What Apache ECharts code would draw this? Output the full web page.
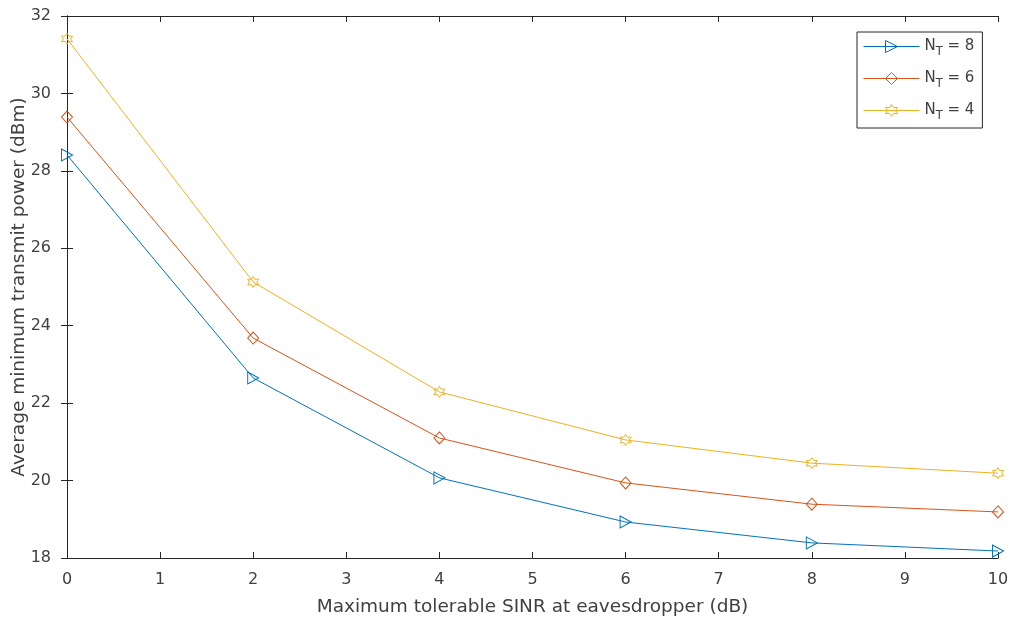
<!DOCTYPE html>
<html><head><meta charset="utf-8">
<script src="https://cdn.jsdelivr.net/npm/echarts@6/dist/echarts.min.js"></script>
<style>html,body{margin:0;padding:0;background:#fff}#c{width:1010px;height:620px}</style>
</head><body><div id="c"></div>
<script>
const xValues = [0, 2, 4, 6, 8, 10];
const nt8 = [28.41, 22.65, 20.07, 18.93, 18.39, 18.18];
const nt6 = [29.39, 23.68, 21.10, 19.94, 19.39, 19.19];
const nt4 = [31.41, 25.13, 22.29, 21.05, 20.45, 20.19];
const seriesNames = ['8', '6', '4'];
const colors = ['#0072BD', '#D95319', '#EDB120'];
const xTitle = 'Maximum tolerable SINR at eavesdropper (dB)';
const yTitle = 'Average minimum transmit power (dBm)';

const triPath = 'path://M0,0 L10,5 L0,10 Z';
const diaPath = 'path://M5,0 L10,5 L5,10 L0,5 Z';
const hexPath = 'path://M5,0 L6.443,2.5 L9.330,2.5 L7.887,5 L9.330,7.5 L6.443,7.5 L5,10 L3.557,7.5 L0.670,7.5 L2.113,5 L0.670,2.5 L3.557,2.5 Z';
const symbols = [triPath, diaPath, hexPath];
const sizes = [[11, 12], [11, 12], [11, 11]];
const data = [nt8, nt6, nt4];

const font = 'DejaVu Sans, sans-serif';
const axColor = '#262626';
const txtColor = '#404040';
const transparent = 'rgba(255,255,255,0)';

const series = data.map((d, i) => ({
  name: 'N_T = ' + seriesNames[i],
  type: 'line',
  data: d.map((v, j) => [xValues[j], v]),
  symbol: symbols[i],
  symbolSize: sizes[i],
  showAllSymbol: true,
  lineStyle: { color: colors[i], width: 1 },
  itemStyle: { color: transparent, borderColor: colors[i], borderWidth: 1 },
  emphasis: { disabled: true },
  animation: false,
  z: 3 - i
}));

const baseAxisLine = { show: true, lineStyle: { color: axColor, width: 1 } };
const tick = { show: true, inside: true, length: 6, lineStyle: { color: axColor } };
const nameStyle = { color: txtColor, fontFamily: font, fontSize: 18.5 };
const chart = echarts.init(document.getElementById('c'), null, { renderer: 'canvas' });
chart.setOption({
  backgroundColor: '#fff',
  animation: false,
  grid: { left: 67, right: 12, top: 16, bottom: 62, containLabel: false, outerBoundsMode: 'none' },
  xAxis: [{
    type: 'value', min: 0, max: 10, interval: 1, position: 'bottom',
    axisLine: baseAxisLine, axisTick: tick,
    axisLabel: { color: txtColor, fontFamily: font, fontSize: 16, margin: 14 },
    splitLine: { show: false },
    name: xTitle, nameLocation: 'middle', nameGap: 40, nameTextStyle: nameStyle,
    nameMoveOverlap: false
  }, {
    type: 'value', min: 0, max: 10, interval: 1, position: 'top',
    axisLine: baseAxisLine, axisTick: tick,
    axisLabel: { show: false }, splitLine: { show: false }
  }],
  yAxis: [{
    type: 'value', min: 18, max: 32, interval: 2, position: 'left',
    axisLine: baseAxisLine, axisTick: tick,
    axisLabel: { color: txtColor, fontFamily: font, fontSize: 16, margin: 16 },
    splitLine: { show: false },
    name: yTitle, nameLocation: 'middle', nameGap: 38, nameRotate: 90, nameTextStyle: nameStyle,
    nameMoveOverlap: false
  }, {
    type: 'value', min: 18, max: 32, interval: 2, position: 'right',
    axisLine: baseAxisLine, axisTick: tick,
    axisLabel: { show: false }, splitLine: { show: false }
  }],
  legend: {
    orient: 'vertical', left: 857, top: 32,
    padding: [7, 8, 6, 6],
    itemGap: 13, itemWidth: 56, itemHeight: 15,
    backgroundColor: '#fff', borderColor: axColor, borderWidth: 1, borderRadius: 0,
    lineStyle: { width: 1 },
    data: series.map((s, i) => ({
      name: s.name,
      itemStyle: { color: transparent, borderColor: colors[i], borderWidth: 1 }
    })),
    formatter: function (name) { return '{m|N}{sub|T}{m| = ' + name.split(' = ')[1] + '}'; },
    textStyle: {
      color: txtColor, fontFamily: font, fontSize: 15,
      rich: {
        m: { fontSize: 15, fontFamily: font, color: txtColor },
        sub: { fontSize: 11.5, fontFamily: font, color: txtColor, padding: [11, 0, 0, 0] }
      }
    },
    selectedMode: false
  },
  series: series
});
</script></body></html>
